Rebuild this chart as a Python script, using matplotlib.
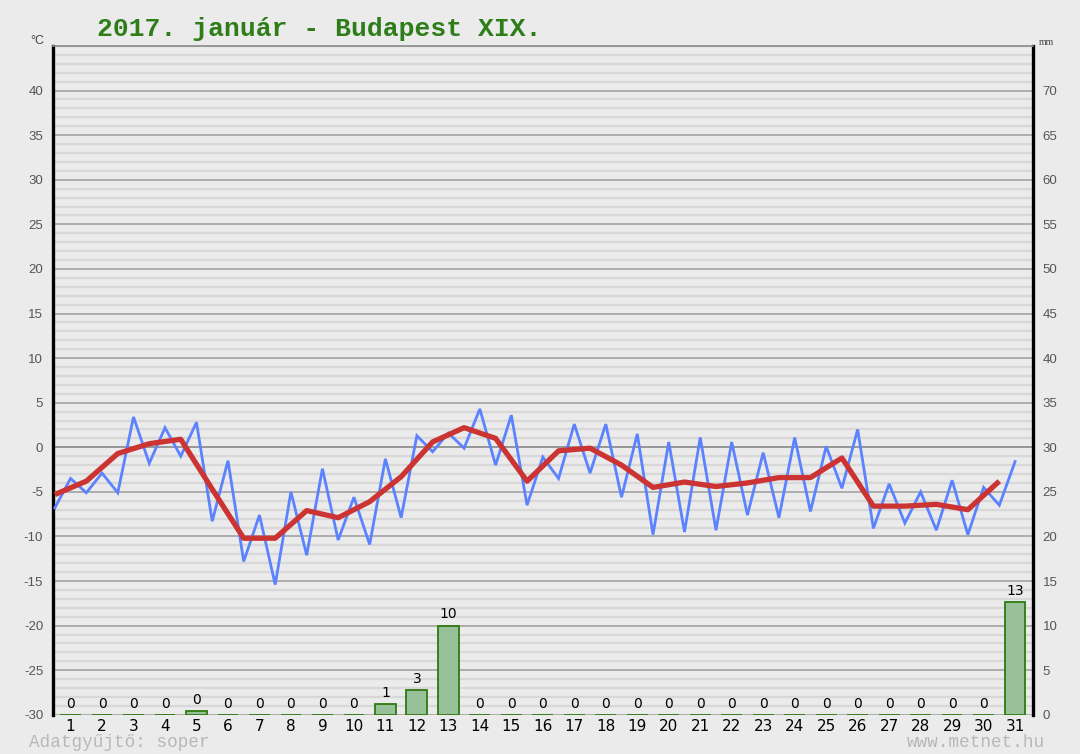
import numpy as np
import matplotlib.pyplot as plt

plt.rcParams['axes.unicode_minus'] = False

# ── data ──────────────────────────────────────────────
days = np.arange(1, 32)

# temperature readings: one half a day before each day mark, one on the mark
temp_half = [-6.8, -5.1, -5.1, -1.8, -1.0, -8.3, -12.8, -15.4, -12.1, -10.4,
             -10.9, -7.9, -0.5, -0.1, -2.0, -6.5, -3.5, -2.9, -5.6, -9.8,
             -9.5, -9.3, -7.6, -7.9, -7.2, -4.6, -9.1, -8.5, -9.3, -9.8, -6.5]
temp_day = [-3.5, -2.9, 3.4, 2.2, 2.8, -1.5, -7.6, -5.0, -2.4, -5.6,
            -1.3, 1.3, 1.6, 4.3, 3.6, -1.1, 2.6, 2.6, 1.5, 0.6,
            1.1, 0.6, -0.6, 1.1, 0.1, 2.0, -4.1, -5.0, -3.7, -4.5, -1.6]

# daily mean temperature
temp_mean = [-5.3, -3.8, -0.7, 0.4, 0.9, -4.7, -10.2, -10.2, -7.1, -7.9,
             -6.1, -3.3, 0.6, 2.2, 1.0, -3.8, -0.4, -0.1, -2.0, -4.5,
             -3.9, -4.4, -4.0, -3.4, -3.4, -1.2, -6.6, -6.6, -6.4, -7.0, -3.8]

# daily precipitation (mm)
precip = [0, 0, 0, 0, 0.4, 0, 0, 0, 0, 0,
          1.2, 2.8, 10.0, 0, 0, 0, 0, 0, 0, 0,
          0, 0, 0, 0, 0, 0, 0, 0, 0, 0, 12.6]

# interleave the two temperature readings in time order
t_blue = np.column_stack([days - 0.5, days]).ravel()
v_blue = np.column_stack([temp_half, temp_day]).ravel()

# ── plot ──────────────────────────────────────────────
bg = '#ebebeb'
fig = plt.figure(figsize=(10.8, 7.54), dpi=100, facecolor=bg)
ax = fig.add_axes([0.049, 0.052, 0.9075, 0.887])
ax.set_facecolor(bg)

ax.set_xlim(0.44, 31.57)
ax.set_ylim(-30, 45)
ax.set_yticks(range(-30, 41, 5))
ax.set_yticks(range(-30, 46, 1), minor=True)
ax.grid(which='minor', axis='y', color='#d8d8d8', lw=1.6, zorder=0)
ax.grid(which='major', axis='y', color='#a8a8a8', lw=1.3, zorder=0)
ax.axhline(0, color='black', lw=1.4, zorder=1)

ax.set_xticks(days)
ax.set_xticklabels([str(d) for d in days], fontsize=11,
                   family='DejaVu Sans')
ax.tick_params(axis='x', length=0, pad=3)
ax.tick_params(axis='y', which='both', length=0, pad=7,
               labelsize=9.5, labelcolor='#555555')
for lab in ax.get_yticklabels():
    lab.set_family('Liberation Sans')

for s in ['left', 'right']:
    ax.spines[s].set_color('black')
    ax.spines[s].set_linewidth(2.4)
ax.spines['top'].set_color('#8a8a8a')
ax.spines['top'].set_linewidth(1.2)
ax.spines['bottom'].set_visible(False)

ax.plot(t_blue, v_blue, color='#5b82ff', lw=2.0, zorder=3,
        solid_joinstyle='miter')
ax.plot(days - 0.5, temp_mean, color='#cc3333', lw=3.8, zorder=4,
        solid_capstyle='butt')

# precipitation on the right-hand mm scale
ax2 = ax.twinx()
ax2.set_ylim(0, 75)
ax2.set_yticks(range(0, 71, 5))
ax2.tick_params(axis='y', length=0, pad=7, labelsize=9.5,
                labelcolor='#555555')
for lab in ax2.get_yticklabels():
    lab.set_family('Liberation Sans')
for s in ax2.spines.values():
    s.set_visible(False)

bars = ax2.bar(days, precip, width=0.66, color='#99c199',
               edgecolor='#2f7a10', lw=1.3, zorder=2)
ax2.bar_label(bars, labels=[f'{p:.0f}' for p in precip], padding=3,
              fontsize=10, family='DejaVu Sans', color='black')

# texts
fig.text(0.09, 0.962, '2017. január - Budapest XIX.', family='Liberation Mono',
         fontweight='bold', fontsize=19, color='#2e7d19', va='center')
fig.text(0.028, 0.945, '°C', fontsize=9, color='#444444', va='center',
         family='Liberation Sans')
fig.text(0.962, 0.944, 'mm', fontsize=7, color='#444444', va='center',
         family='Liberation Serif')
fig.text(0.027, 0.004, 'Adatgyűjtő: soper', family='Liberation Mono',
         fontsize=12.7, color='#b8b8b8', va='bottom')
fig.text(0.968, 0.004, 'www.metnet.hu', family='Liberation Mono',
         fontsize=12.7, color='#b8b8b8', va='bottom', ha='right')

plt.savefig('out.png', dpi=100, facecolor=bg)
